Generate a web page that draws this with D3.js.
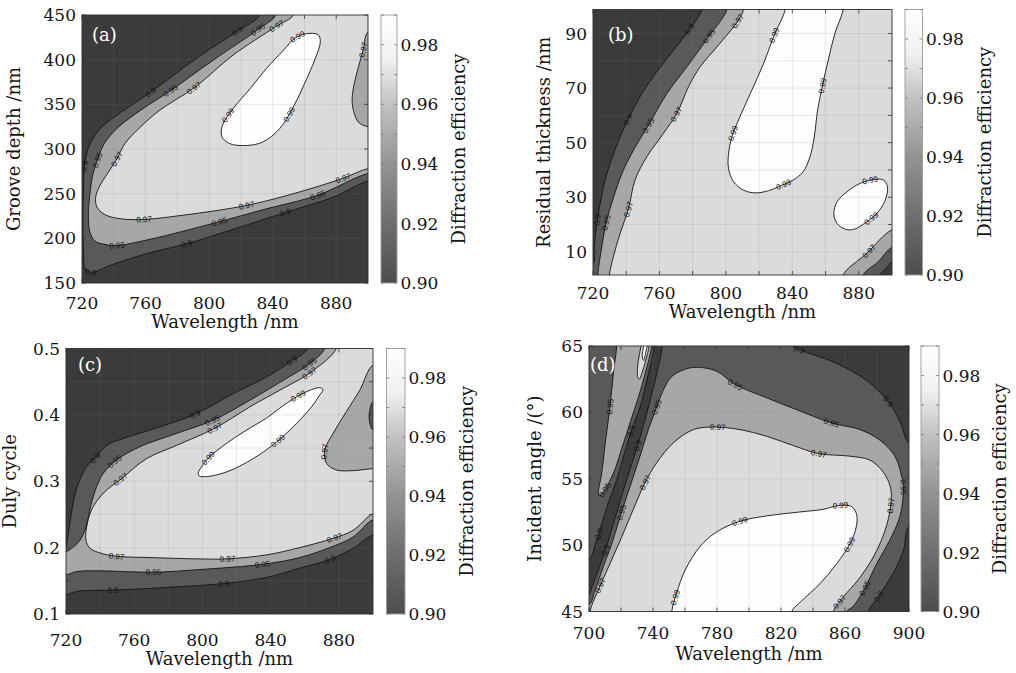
<!DOCTYPE html>
<html>
<head>
<meta charset="utf-8">
<title>Diffraction efficiency contours</title>
<script src="https://cdn.jsdelivr.net/npm/d3@7/dist/d3.min.js"></script>
<style>
  body { margin: 0; background: #fff; }
  svg { display: block; }
  text { font-family: "DejaVu Serif", serif; fill: #151515; }
  text.clab { font-family: "Liberation Sans", Arial, sans-serif; fill: #111; }
</style>
</head>
<body>
<svg id="chart" width="1016" height="673"></svg>
<script>
// grey for each band between contour levels: <0.9, 0.9-0.95, 0.95-0.97, 0.97-0.99, >0.99
const bandColors = ["#3b3b3b", "#595959", "#a7a7a7", "#dbdbdb", "#fdfdfd"];

// colour bar
const cbDomain = [0.90, 0.99];
const cbTicks = [0.90, 0.92, 0.94, 0.96, 0.98];
const cbMinor = [0.90, 0.91, 0.92, 0.93, 0.94, 0.95, 0.96, 0.97, 0.98, 0.99];
const cbStopVals = [0.90, 0.92, 0.94, 0.96, 0.975, 0.99];
const cbStopCols = ["#4d4d4d", "#6e6e6e", "#939393", "#c2c2c2", "#f0f0f0", "#ffffff"];

// ---------- (a) groove depth vs wavelength ----------
const aXDom = [720, 900], aYDom = [150, 450];
const aXTicks = [720, 760, 800, 840, 880];
const aXGrid = [740, 760, 780, 800, 820, 840, 860, 880];
const aYTicks = [150, 200, 250, 300, 350, 400, 450];
const aYGrid = [200, 250, 300, 350, 400];
const aC90 = [[832,450],[818,432],[794,404],[762,362],[742,338],[730.5,321],[724,301],[721.5,280],[721,258],[720.6,224],[721,183],[722,166],[726,162],[738,170],[761,183],[786,194],[815,210],[848,229],[878,246],[900,264]];
const aC95 = [[842,450],[831,434],[803,400],[775.5,365],[757,343.5],[742,323],[734,306],[730,289],[727,272.5],[725,250],[724,224],[725,207],[728,197],[735,193],[742,192],[763,199],[803,217],[836,233],[868,248],[900,272.5]];
const aC97 = [[853,450],[842,437],[815,405],[791,369],[769,343.5],[757,325],[747,306],[742,289],[736,272.5],[731,258],[728.6,246],[729.4,235],[734,227],[742,222.5],[757,221],[784,226],[824,237],[857,252],[884,267],[900,278]];
const aC97r = [[900,431],[897,411],[894,392],[891,370],[890,355],[891,342],[894,330],[900,325]];
const aC99 = [[861,429],[868.6,428],[870,420],[866.5,400],[860,373],[853,347],[844.5,323],[834,308],[824,304],[813,306],[808,314],[808.5,327],[815,345],[826,368],[836,390],[847,411],[854,424]];
const aLab = [[0.99,857,422],[0.99,813,336],[0.99,851,338],
  [0.97,842,439],[0.97,791,368],[0.97,742,288],[0.97,759,221],[0.97,824,237],[0.97,884,267],[0.97,897,411],
  [0.95,831,434],[0.95,776.5,364],[0.95,729.4,287.5],[0.95,742,192],[0.95,806,218],[0.95,868,248],
  [0.9,818,432],[0.9,764,362],[0.9,722,280],[0.9,725,160],[0.9,786,194],[0.9,848,229]];

// ---------- (b) residual thickness vs wavelength ----------
const bXDom = [720, 900], bYDom = [1.5, 98.8];
const bXTicks = [720, 760, 800, 840, 880];
const bXGrid = [740, 760, 780, 800, 820, 840, 860, 880];
const bYTicks = [10, 30, 50, 70, 90];
const bYGrid = [10, 20, 30, 40, 50, 60, 70, 80, 90];
const bC90 = [[785.5,98.8],[778.5,91.8],[768.5,83.9],[758.4,76],[749.4,68],[742.4,60.1],[736.3,52.1],[731.3,44.2],[727.3,36.3],[724.3,27.7],[722.3,20.4],[720.7,11.9],[720,5.7]];
const bC95 = [[800.6,98.8],[789.6,88.8],[776.5,77.8],[764.5,68],[753.4,56.4],[744.4,47.3],[737.4,38.7],[732.3,29.8],[728.3,21.6],[725.3,11.9],[722.9,1.5]];
const bC97 = [[810.6,98.8],[807.6,94.9],[794.6,85.1],[784.5,77.8],[777.5,70.5],[770.5,60.7],[762.4,53.4],[752.4,44.8],[745.3,36.3],[741.4,25.9],[736.3,16.7],[732.3,8.2],[729.9,1.5]];
const bC99 = [[835.7,98.8],[829.1,89.4],[822.7,79],[814.7,68],[807.6,58.3],[803.6,52.1],[801.6,46],[801.6,40.5],[804.6,35.7],[810.6,32.6],[817.7,31.6],[825.7,32.4],[833.7,34.4],[840.5,36.3],[846.5,39.3],[850.6,44.8],[853.2,52.1],[855.2,61.9],[858.2,71.1],[861.6,80.2],[865.6,90],[870.6,98.8]];
const bC99s = [[865,24],[866.9,28.3],[872.9,32],[880.9,35.1],[888.9,36.5],[894.9,36.3],[897.3,33.8],[895.9,28.9],[890.9,24.1],[882.9,20.2],[876.9,18.2],[871.9,18.3],[866.9,20.4]];
const bC97r = [[870.6,1.5],[884.7,9.4],[900,18]];
const bC95r = [[882.7,1.5],[891.7,6.4],[900,11.6]];
const bC90r = [[892.7,1.5],[896.3,3.9],[900,6.4]];
const bLab = [[0.9,778.5,91.2],[0.9,741.5,58.3],[0.9,724.3,21.6],
  [0.95,789.6,88.8],[0.95,753.4,56],[0.95,728.7,20.6],
  [0.97,807.6,94.3],[0.97,770.5,60.1],[0.97,741.5,25.3],[0.97,888,9.4],
  [0.99,829.1,89.4],[0.99,803.6,53.4],[0.99,858.2,71.1],[0.99,834.7,35.1],[0.99,887,36.3],[0.99,887,22.8]];

// ---------- (c) duty cycle vs wavelength ----------
const cXDom = [720, 900], cYDom = [0.1, 0.5];
const cXTicks = [720, 760, 800, 840, 880];
const cXGrid = [740, 760, 780, 800, 820, 840, 860, 880];
const cYTicks = [0.1, 0.2, 0.3, 0.4, 0.5];
const cYGrid = [0.15, 0.2, 0.25, 0.3, 0.35, 0.4, 0.45];
const cC90u = [[861.9,.5],[852.2,.481],[837.5,.457],[818,.432],[795.6,.401],[775.1,.382],[755.5,.366],[743.8,.354],[737,.334],[732.1,.322],[726.6,.292],[723.5,.257],[721.6,.226],[720.4,.206],[720,.201]];
const cC90l = [[720,.129],[726.2,.134],[747.7,.136],[779,.14],[812.7,.146],[837.5,.155],[857,.169],[874.6,.182],[888.3,.199],[900,.219]];
const cC95u = [[871.7,.5],[862.9,.477],[847.3,.452],[827.8,.422],[806.3,.392],[784.8,.372],[763.3,.352],[749.7,.332],[741.9,.312],[738,.292],[734.4,.262],[731.7,.231],[728.2,.211],[723.3,.199],[720,.194]];
const cC95l = [[720,.159],[726.2,.164],[739.9,.165],[771.2,.163],[798.5,.167],[835.6,.175],[857,.185],[876.6,.202],[888.3,.216],[900,.242]];
const cC97 = [[878.5,.5],[862.9,.463],[847.3,.44],[827.8,.412],[807.3,.38],[784.8,.354],[767.2,.334],[752.6,.304],[741.9,.282],[735,.257],[732.1,.231],[731.7,.211],[734.1,.199],[739.9,.192],[749.7,.187],[769.2,.185],[798.5,.183],[814.1,.183],[837.5,.189],[857,.2],[876.6,.214],[888.3,.226],[900,.251]];
const cC97r = [[900,.475],[892.2,.437],[884.4,.405],[876.6,.372],[871.7,.347],[872.7,.327],[878.5,.317],[888.3,.316],[900,.319]];
const cC95r = [[900,.42],[898.4,.41],[897.7,.397],[898.4,.385],[900,.377]];
const cC99 = [[798.1,.308],[802.4,.307],[814.1,.314],[829.7,.334],[843.4,.359],[855.1,.387],[863.9,.412],[868.8,.43],[870.7,.438],[868.8,.441],[863.9,.438],[855.1,.427],[845.3,.41],[837.5,.395],[825.8,.377],[814.1,.357],[804.3,.337],[799.5,.322],[797.5,.312]];
const cLab = [[0.9,852.2,.481],[0.9,795.6,.401],[0.9,737,.334],[0.9,747.7,.135],[0.9,812.7,.146],[0.9,874.6,.182],
  [0.95,862.5,.477],[0.95,806,.393],[0.95,749.7,.327],[0.95,771.5,.163],[0.95,835.6,.175],
  [0.97,862.9,.463],[0.97,807,.381],[0.97,752,.302],[0.97,749.7,.186],[0.97,814.5,.182],[0.97,877.5,.214],[0.97,871.7,.344],
  [0.99,857.6,.421],[0.99,842.4,.367],[0.99,804,.333]];

// ---------- (d) incident angle vs wavelength ----------
const dXDom = [700, 900], dYDom = [45, 65];
const dXTicks = [700, 740, 780, 820, 860, 900];
const dXGrid = [720, 740, 760, 780, 800, 820, 840, 860, 880];
const dYTicks = [45, 50, 55, 60, 65];
const dYGrid = [50, 55, 60];
const dA = [[740.8,65],[737.1,62.9],[731.9,60.4],[726.7,58.7],[722.1,56.9],[717.3,54.9],[712.1,53.2],[707.5,51.4],[703.8,50],[700,48.9]];
const dB = [[700,46.3],[701.7,46.8],[705.8,48.1],[710.2,49.6],[715.2,51.6],[720.4,53.7],[725.6,55.7],[730.4,57.5],[737.1,60.4],[742.3,62.9],[745.8,65]];
const dTR = [[827.7,65],[831.9,64.7],[852.7,63.8],[873.5,62.4],[887.1,60.8],[894.4,59.3],[900,57.7]];
const dBR = [[900,51.4],[896.5,49.6],[890.2,47.9],[880.8,46.1],[874.6,45]];
const dT = [[717.3,65],[715.2,62.9],[713.1,60.4],[710.4,57.9],[707.9,55.4],[705.8,53.9],[706.3,53.7],[709,54],[715.2,55.4],[720.8,57.4],[725.6,59.2],[730.8,61.1],[735,62.9],[739.2,65]];
const dC = [[700,45.5],[703.8,46.6],[709,48.4],[714.2,50.1],[720.4,52.5],[725.6,54.4],[731.9,56.7],[737.1,58.7],[742.3,60.4],[746.5,61.7],[751.7,62.7],[759,63.2],[767.3,63.4],[779.8,63.1],[791.3,62.1],[811,61.1],[831.9,60.1],[851.7,59.2],[869.4,58.7],[881.9,57.9],[891.2,56.7],[895.4,55.2],[896.5,54.2],[894.4,52.2],[888.1,50.4],[879.8,48.6],[872.5,46.8],[865.2,45.4],[861,45]];
const dD = [[700.6,45],[706.9,46.9],[713.1,48.6],[720.4,50.6],[727.7,52.7],[735,54.7],[742.3,56.2],[752.7,57.7],[765.2,58.7],[777.7,58.9],[794.4,58.7],[811,58.2],[827.7,57.5],[843.3,56.9],[863.1,56.7],[875.6,56.4],[883.9,55.5],[888.5,54.3],[888.5,52.9],[885,51.1],[877.7,49.1],[868.3,47.4],[859,46.1],[852.7,45]];
const dS97 = [[732.5,65],[730.8,63.9],[730.4,62.7],[731.5,62.5],[732.9,62.9],[735.4,63.9],[737.5,65]];
const dS99 = [[734,65],[733.3,64.2],[734.2,63.9],[735.6,64.6],[736.5,65]];
const d99 = [[751.7,45],[754.8,46.4],[760,48.1],[769.4,49.9],[779.8,51],[794.4,51.8],[811,52.2],[831.9,52.5],[846.5,52.7],[856.9,53],[864.2,52.9],[867.3,52.3],[866.9,51.3],[863.1,50.1],[854.8,48.6],[844.4,47.1],[832.9,45.8],[826.7,45]];
const dLab = [[0.9,726.7,58.6],[0.9,730.4,57.5],[0.9,706.9,50.8],[0.9,710.2,49.6],[0.9,830.8,64.6],[0.9,887.1,60.8],[0.9,880.8,46.1],
  [0.95,713.1,60.4],[0.95,709,54.2],[0.95,720.4,52.5],[0.95,743.1,60.4],[0.95,791.3,62.1],[0.95,851.7,59.2],[0.95,896.5,54.4],[0.95,872.5,46.8],
  [0.97,706.9,46.9],[0.97,735,54.7],[0.97,780.8,58.8],[0.97,843.3,56.9],[0.97,888.1,53],[0.97,855.8,45.8],
  [0.99,754.2,46.1],[0.99,794.4,51.8],[0.99,857.3,52.9],[0.99,862.1,50.1]];

// panel setup (layout in px, shapes drawn low level -> high level, pockets after)
const panels = [
  {id:"a", letter:"(a)", box:{x0:82,x1:368,y0:15,y1:283}, cb:{x0:381,x1:397},
   xDom:aXDom, yDom:aYDom, xTicks:aXTicks, xGrid:aXGrid, yTicks:aYTicks, yGrid:aYGrid, yFmt:d3.format("d"),
   yTitle:"Groove depth /nm", xLabY:308.5, xTitleY:328, yTitleX:20, cbTitleX:465, letterDx:10, letterDy:26,
   base:0, labels:aLab,
   shapes:[{band:1, level:0.9, curves:[aC90], corners:["tr"]},
           {band:2, level:0.95, curves:[aC95], corners:["tr"]},
           {band:3, level:0.97, curves:[aC97], corners:["tr"]},
           {band:2, level:0.97, curves:[aC97r], corners:[]},
           {band:4, level:0.99, curves:[aC99], closed:true}]},
  {id:"b", letter:"(b)", box:{x0:593,x1:892,y0:9.5,y1:275}, cb:{x0:905,x1:922.5},
   xDom:bXDom, yDom:bYDom, xTicks:bXTicks, xGrid:bXGrid, yTicks:bYTicks, yGrid:bYGrid, yFmt:d3.format("d"),
   yTitle:"Residual thickness /nm", xLabY:298.5, xTitleY:318, yTitleX:550, cbTitleX:991, letterDx:15, letterDy:31.5,
   base:0, labels:bLab,
   shapes:[{band:1, level:0.9, curves:[bC90], corners:["bl","br","tr"]},
           {band:2, level:0.95, curves:[bC95], corners:["br","tr"]},
           {band:3, level:0.97, curves:[bC97], corners:["br","tr"]},
           {band:4, level:0.99, curves:[bC99], corners:[]},
           {band:4, level:0.99, curves:[bC99s], closed:true},
           {band:2, level:0.97, curves:[bC97r], corners:["br"]},
           {band:1, level:0.95, curves:[bC95r], corners:["br"]},
           {band:0, level:0.9, curves:[bC90r], corners:["br"]}]},
  {id:"c", letter:"(c)", box:{x0:66,x1:373,y0:348.5,y1:614}, cb:{x0:386.5,x1:405},
   xDom:cXDom, yDom:cYDom, xTicks:cXTicks, xGrid:cXGrid, yTicks:cYTicks, yGrid:cYGrid, yFmt:d3.format(".1f"),
   yTitle:"Duly cycle", xLabY:645.5, xTitleY:665, yTitleX:16, cbTitleX:473, letterDx:12, letterDy:22.5,
   base:0, labels:cLab,
   shapes:[{band:1, level:0.9, curves:[cC90u, cC90l], corners:["tr"]},
           {band:2, level:0.95, curves:[cC95u, cC95l], corners:["tr"]},
           {band:3, level:0.97, curves:[cC97], corners:["tr"]},
           {band:2, level:0.97, curves:[cC97r], corners:[]},
           {band:1, level:0.95, curves:[cC95r], corners:[]},
           {band:4, level:0.99, curves:[cC99], closed:true}]},
  {id:"d", letter:"(d)", box:{x0:589,x1:909,y0:346,y1:611.5}, cb:{x0:921,x1:939},
   xDom:dXDom, yDom:dYDom, xTicks:dXTicks, xGrid:dXGrid, yTicks:dYTicks, yGrid:dYGrid, yFmt:d3.format("d"),
   yTitle:"Incident angle /(°)", xLabY:638.5, xTitleY:660, yTitleX:541, cbTitleX:1006, letterDx:1, letterDy:25,
   base:1, labels:dLab,
   shapes:[{band:0, level:0.9, curves:[dA, dB], corners:[]},
           {band:0, level:0.9, curves:[dTR], corners:["tr"]},
           {band:0, level:0.9, curves:[dBR], corners:["br"]},
           {band:2, level:0.95, curves:[dT], corners:[]},
           {band:2, level:0.95, curves:[dC], corners:["bl"]},
           {band:3, level:0.97, curves:[dD], corners:[]},
           {band:3, level:0.97, curves:[dS97], corners:[]},
           {band:4, level:0.99, curves:[dS99], corners:[]},
           {band:4, level:0.99, curves:[d99], corners:[]}]}
];

const svg = d3.select("#chart");
const defs = svg.append("defs");
const lineGen = d3.line().curve(d3.curveCatmullRom.alpha(0.5));
const closedGen = d3.line().curve(d3.curveCatmullRomClosed.alpha(0.5));

panels.forEach(drawPanel);

function drawPanel(p) {
  const b = p.box;
  const x = d3.scaleLinear().domain(p.xDom).range([b.x0, b.x1]);
  const y = d3.scaleLinear().domain(p.yDom).range([b.y1, b.y0]);
  const toPx = d => [x(d[0]), y(d[1])];
  const E = 14;

  // push an end point that sits on an edge a bit further out, so fills close outside the clip
  function pushOut(pt) {
    const d = [pt[0] - b.x0, b.x1 - pt[0], pt[1] - b.y0, b.y1 - pt[1]];
    const i = d.indexOf(Math.min(...d));
    if (i === 0) return [pt[0] - E, pt[1]];
    if (i === 1) return [pt[0] + E, pt[1]];
    if (i === 2) return [pt[0], pt[1] - E];
    return [pt[0], pt[1] + E];
  }
  const ext = pts => [pushOut(pts[0]), ...pts, pushOut(pts[pts.length - 1])];
  const corner = {
    tl:[b.x0 - 2*E, b.y0 - 2*E], tr:[b.x1 + 2*E, b.y0 - 2*E],
    bl:[b.x0 - 2*E, b.y1 + 2*E], br:[b.x1 + 2*E, b.y1 + 2*E]
  };

  function fillPath(s) {
    if (s.closed) return closedGen(s.curves[0].map(toPx));
    let d = "";
    s.curves.forEach((c, i) => {
      let part = lineGen(ext(c.map(toPx)));
      if (i > 0) part = "L" + part.slice(1);
      d += part;
    });
    s.corners.forEach(k => { d += "L" + corner[k].join(","); });
    return d + "Z";
  }

  const clipId = "clip-" + p.id;
  defs.append("clipPath").attr("id", clipId).append("rect")
    .attr("x", b.x0).attr("y", b.y0).attr("width", b.x1 - b.x0).attr("height", b.y1 - b.y0);

  const g = svg.append("g");
  const plot = g.append("g").attr("clip-path", `url(#${clipId})`);
  plot.append("rect")
    .attr("x", b.x0).attr("y", b.y0).attr("width", b.x1 - b.x0).attr("height", b.y1 - b.y0)
    .attr("fill", bandColors[p.base]);

  const fills = plot.append("g");
  const grid = plot.append("g");
  const lines = plot.append("g");
  const labs = plot.append("g");

  p.shapes.forEach(s => {
    fills.append("path").attr("d", fillPath(s)).attr("fill", bandColors[s.band]);
  });

  // grid lines (semi transparent so they show on both dark and light fills)
  grid.selectAll("line.gx").data(p.xGrid).join("line")
    .attr("x1", d => x(d)).attr("x2", d => x(d)).attr("y1", b.y0).attr("y2", b.y1);
  grid.selectAll("line.gy").data(p.yGrid).join("line")
    .attr("y1", d => y(d)).attr("y2", d => y(d)).attr("x1", b.x0).attr("x2", b.x1);
  grid.selectAll("line").attr("stroke", "#808080").attr("stroke-opacity", 0.17).attr("stroke-width", 1);

  // contour lines
  const strokes = [];
  p.shapes.forEach(s => {
    s.curves.forEach(c => {
      const path = lines.append("path")
        .attr("d", s.closed ? closedGen(c.map(toPx)) : lineGen(ext(c.map(toPx))))
        .attr("fill", "none").attr("stroke", "#141414").attr("stroke-width", 0.9);
      strokes.push({level: s.level, node: path.node()});
    });
  });

  // inline contour labels, snapped to the nearest point of their contour
  p.labels.forEach(([lev, lx, ly]) => {
    const tx = x(lx), ty = y(ly);
    let best = null;
    strokes.filter(s => s.level === lev).forEach(s => {
      const L = s.node.getTotalLength();
      for (let l = 0; l <= L; l += 1.5) {
        const pt = s.node.getPointAtLength(l);
        const dd = (pt.x - tx) ** 2 + (pt.y - ty) ** 2;
        if (!best || dd < best.dd) best = {dd, l, L, node: s.node};
      }
    });
    if (!best) return;
    const m = best.node.getPointAtLength(best.l);
    const a0 = best.node.getPointAtLength(Math.max(0, best.l - 4));
    const a1 = best.node.getPointAtLength(Math.min(best.L, best.l + 4));
    let ang = Math.atan2(a1.y - a0.y, a1.x - a0.x) * 180 / Math.PI;
    if (ang > 90) ang -= 180;
    if (ang < -90) ang += 180;
    labs.append("text").attr("class", "clab")
      .attr("transform", `translate(${m.x},${m.y}) rotate(${ang})`)
      .attr("text-anchor", "middle").attr("dy", "0.35em")
      .attr("font-size", 8)
      .text(String(lev));
  });

  // frame and inward ticks on all sides
  g.append("rect")
    .attr("x", b.x0).attr("y", b.y0).attr("width", b.x1 - b.x0).attr("height", b.y1 - b.y0)
    .attr("fill", "none").attr("stroke", "#2e2e2e").attr("stroke-width", 0.9);
  const tk = 4;
  const xt = Array.from(new Set([...p.xTicks, ...p.xGrid]));
  const yt = Array.from(new Set([...p.yTicks, ...p.yGrid]));
  const ticks = g.append("g").attr("stroke", "#333").attr("stroke-width", 0.8);
  xt.forEach(v => {
    ticks.append("line").attr("x1", x(v)).attr("x2", x(v)).attr("y1", b.y1).attr("y2", b.y1 - tk);
    ticks.append("line").attr("x1", x(v)).attr("x2", x(v)).attr("y1", b.y0).attr("y2", b.y0 + tk);
  });
  yt.forEach(v => {
    ticks.append("line").attr("y1", y(v)).attr("y2", y(v)).attr("x1", b.x0).attr("x2", b.x0 + tk);
    ticks.append("line").attr("y1", y(v)).attr("y2", y(v)).attr("x1", b.x1).attr("x2", b.x1 - tk);
  });

  // tick labels
  g.selectAll("text.xl").data(p.xTicks).join("text").attr("class", "xl")
    .attr("x", d => x(d)).attr("y", p.xLabY).attr("text-anchor", "middle")
    .attr("font-size", 17).text(d => d);
  g.selectAll("text.yl").data(p.yTicks).join("text").attr("class", "yl")
    .attr("x", b.x0 - 6).attr("y", d => y(d)).attr("dy", "0.36em").attr("text-anchor", "end")
    .attr("font-size", 17).text(d => p.yFmt(d));

  // axis titles
  g.append("text").attr("x", (b.x0 + b.x1) / 2).attr("y", p.xTitleY)
    .attr("text-anchor", "middle").attr("font-size", 18).text("Wavelength /nm");
  g.append("text").attr("transform", `translate(${p.yTitleX},${(b.y0 + b.y1) / 2}) rotate(-90)`)
    .attr("text-anchor", "middle").attr("font-size", 18).text(p.yTitle);

  // panel letter
  g.append("text").attr("x", b.x0 + p.letterDx).attr("y", b.y0 + p.letterDy)
    .attr("font-size", 18).style("fill", "#ffffff").text(p.letter);

  // colour bar
  const cy = d3.scaleLinear().domain(cbDomain).range([b.y1, b.y0]);
  const gradId = "grad-" + p.id;
  const grad = defs.append("linearGradient").attr("id", gradId)
    .attr("x1", 0).attr("y1", 1).attr("x2", 0).attr("y2", 0);
  cbStopVals.forEach((v, i) => {
    grad.append("stop")
      .attr("offset", (v - cbDomain[0]) / (cbDomain[1] - cbDomain[0]))
      .attr("stop-color", cbStopCols[i]);
  });
  const cb = p.cb;
  g.append("rect").attr("x", cb.x0).attr("y", b.y0).attr("width", cb.x1 - cb.x0).attr("height", b.y1 - b.y0)
    .attr("fill", `url(#${gradId})`).attr("stroke", "#9a9a9a").attr("stroke-width", 0.9);
  const cbt = g.append("g").attr("stroke", "#7a7a7a").attr("stroke-width", 0.8);
  cbMinor.forEach(v => {
    cbt.append("line").attr("x1", cb.x0).attr("x2", cb.x0 + 3).attr("y1", cy(v)).attr("y2", cy(v));
    cbt.append("line").attr("x1", cb.x1 - 3).attr("x2", cb.x1).attr("y1", cy(v)).attr("y2", cy(v));
  });
  g.selectAll("text.cbl").data(cbTicks).join("text").attr("class", "cbl")
    .attr("x", cb.x1 + 3.5).attr("y", d => cy(d)).attr("dy", "0.36em")
    .attr("font-size", 17).text(d => d3.format(".2f")(d));
  g.append("text").attr("transform", `translate(${p.cbTitleX},${(b.y0 + b.y1) / 2}) rotate(-90)`)
    .attr("text-anchor", "middle").attr("font-size", 18).text("Diffraction efficiency");
}
</script>
</body>
</html>
